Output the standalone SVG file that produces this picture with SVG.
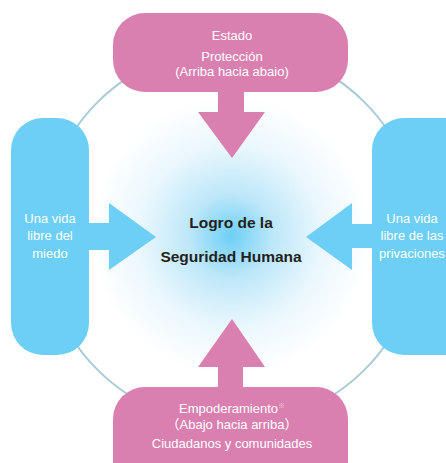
<svg xmlns="http://www.w3.org/2000/svg" width="446" height="463" viewBox="0 0 446 463">
<defs>
<radialGradient id="glow" cx="231" cy="236" r="140" gradientUnits="userSpaceOnUse">
<stop offset="0" stop-color="#6dcff6"/>
<stop offset="0.3" stop-color="#bde7f9"/>
<stop offset="0.65" stop-color="#eaf7fd"/>
<stop offset="1" stop-color="#ffffff"/>
</radialGradient>
<style>
.pink{fill:#da80b1}
.blue{fill:#6dcff6}
.lbl{font-family:"Liberation Sans","Noto Sans CJK JP",sans-serif;font-size:13px;fill:#ffffff;text-anchor:middle}
.ctr{font-family:"Liberation Sans",sans-serif;font-size:15.5px;font-weight:bold;fill:#231f20;text-anchor:middle}
</style>
</defs>
<rect width="446" height="463" fill="#ffffff"/>
<circle cx="231" cy="236" r="140" fill="url(#glow)"/>
<g id="connectors">
<circle cx="231" cy="236" r="189" fill="none" stroke="#a9cbd8" stroke-width="2"/>
<polygon class="pink" points="218,90 244,90 244,112 265,112 232,158 198,112 218,112"/>
<polygon class="blue" points="87,223 109,223 109,203 156,237 109,270 109,250 87,250"/>
<polygon class="blue" points="374,224 352,224 352,203 306,237 352,270 352,248 374,248"/>
<polygon class="pink" points="218,389 243,389 243,367 265,367 232,319 198,367 218,367"/>
</g>
<g id="top">
<rect class="pink" x="113" y="13" width="235" height="79" rx="32"/>
<text class="lbl" x="232" y="40">Estado</text>
<text class="lbl" x="232" y="61">Protección</text>
<text class="lbl" x="232" y="76">(Arriba hacia abaio)</text>
</g>
<g id="left">
<rect class="blue" x="11" y="118" width="78" height="237" rx="32"/>
<text class="lbl" x="50" y="223">Una vida</text>
<text class="lbl" x="50" y="240">libre del</text>
<text class="lbl" x="50" y="258">miedo</text>
</g>
<g id="right">
<rect class="blue" x="372" y="118" width="110" height="237" rx="32"/>
<text class="lbl" x="412" y="223">Una vida</text>
<text class="lbl" x="412" y="240">libre de las</text>
<text class="lbl" x="412" y="258">privaciones</text>
</g>
<g id="bottom">
<rect class="pink" x="113" y="387" width="235" height="110" rx="32"/>
<text class="lbl" x="232" y="413">Empoderamiento<tspan font-size="7" dy="-5" fill="#f3c6de">※</tspan></text>
<text class="lbl" x="232" y="429">（Abajo hacia arriba）</text>
<text class="lbl" x="232" y="448">Ciudadanos y comunidades</text>
</g>
<g id="center">
<text class="ctr" x="231" y="228">Logro de la</text>
<text class="ctr" x="231" y="262">Seguridad Humana</text>
</g>
</svg>
